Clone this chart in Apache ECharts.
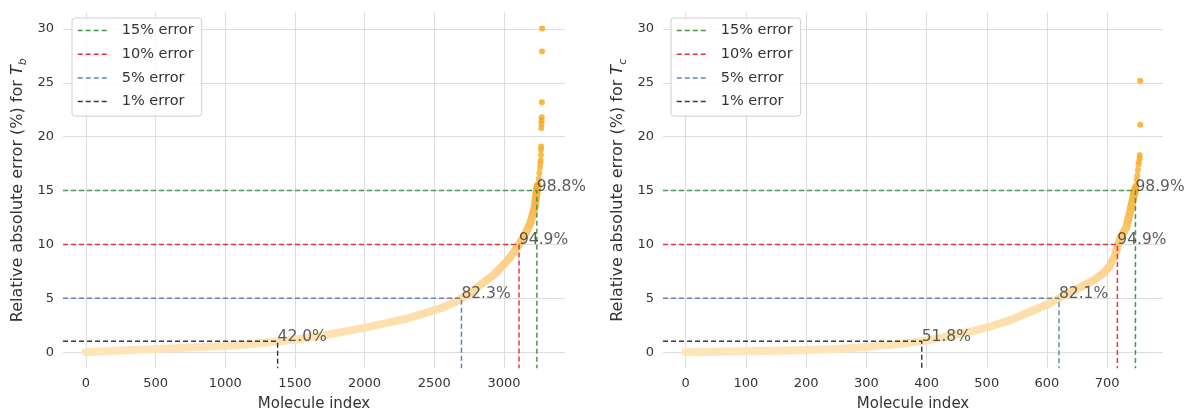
<!DOCTYPE html>
<html>
<head>
<meta charset="utf-8">
<script src="https://cdn.jsdelivr.net/npm/echarts@6/dist/echarts.min.js"></script>
<style>html,body{margin:0;padding:0;background:#fff}#c{width:1187px;height:412px}</style>
</head>
<body>
<div id="c"></div>
<script>
// ---- data ----
const thresholdNames = ['15% error', '10% error', '5% error', '1% error'];
const thresholds = [15, 10, 5, 1];
const thresholdColors = ['#449c44', '#e8333a', '#6482b4', '#3a3a3a'];

// Left panel (T_b), sorted molecule errors
const leftIdx = [0, 250, 500, 750, 1000, 1200, 1376, 1500, 1700, 1873, 2000, 2154, 2300, 2428, 2550, 2651, 2695, 2770, 2845, 2920, 2982, 3050, 3108, 3150, 3190, 3220, 3236, 3241];
const leftErr = [0.0, 0.15, 0.28, 0.42, 0.56, 0.75, 1.0, 1.15, 1.55, 1.95, 2.25, 2.7, 3.1, 3.6, 4.1, 4.67, 5.0, 5.6, 6.4, 7.1, 7.9, 8.9, 10.0, 10.9, 12.0, 13.4, 15.0, 15.4];
const leftTailIdx = [3245, 3250, 3254, 3258, 3261, 3263, 3265, 3266, 3267, 3268, 3269, 3270, 3271, 3272, 3273, 3274];
const leftTailErr = [15.6, 16.1, 16.6, 17.1, 17.5, 17.8, 18.3, 18.8, 19.1, 20.8, 21.2, 21.5, 21.8, 23.2, 27.9, 30.05];
const leftCross = [3236, 3108, 2695, 1376];
const leftPct = ['98.8%', '94.9%', '82.3%', '42.0%'];

// Right panel (T_c)
const rightIdx = [0, 50, 100, 150, 200, 250, 300, 350, 392, 420, 450, 480, 510, 540, 570, 600, 620, 640, 657, 678, 693, 703, 712, 717, 723, 732, 735, 740, 747];
const rightErr = [0.0, 0.04, 0.08, 0.13, 0.2, 0.3, 0.48, 0.72, 1.0, 1.3, 1.65, 2.0, 2.45, 3.0, 3.7, 4.4, 5.0, 5.6, 6.06, 6.7, 7.3, 7.9, 8.85, 9.8, 10.7, 11.6, 12.3, 13.5, 15.2];
const rightTailIdx = [748, 749, 750, 751, 752, 753, 754, 754, 755, 755];
const rightTailErr = [15.5, 16.0, 16.4, 16.9, 17.4, 17.7, 18.0, 18.3, 21.1, 25.2];
const rightCross = [747, 717, 620, 392];
const rightPct = ['98.9%', '94.9%', '82.1%', '51.8%'];

// ---- chart ----
const FONT = 'DejaVu Sans';
const TXT = '#333333';
const Y_MIN = -1.5, Y_MAX = 31.55;
const panels = [
  { idx: leftIdx, err: leftErr, tIdx: leftTailIdx, tErr: leftTailErr, cross: leftCross, pct: leftPct,
    xMin: -164, xMax: 3438, split: 8, sub: 'b',
    grid: { left: 63, top: 12.3, width: 502, height: 356, outerBoundsMode: 'none', containLabel: false }, legendLeft: 72 },
  { idx: rightIdx, err: rightErr, tIdx: rightTailIdx, tErr: rightTailErr, cross: rightCross, pct: rightPct,
    xMin: -37.75, xMax: 792.75, split: 8, sub: 'c',
    grid: { left: 663, top: 12.3, width: 500, height: 356, outerBoundsMode: 'none', containLabel: false }, legendLeft: 671 }
];

const zip = (a, b) => a.map((v, i) => [v, b[i]]);
const grids = [], xAxes = [], yAxes = [], series = [], legends = [], colorSeries = [];

panels.forEach((p, k) => {
  grids.push(p.grid);
  xAxes.push({
    type: 'value', gridIndex: k, min: p.xMin, max: p.xMax, splitNumber: p.split,
    name: 'Molecule index', nameLocation: 'middle', nameGap: 28,
    nameTextStyle: { fontFamily: FONT, fontSize: 15, color: TXT },
    axisLine: { show: false }, axisTick: { show: false },
    axisLabel: { fontFamily: FONT, fontSize: 13, color: TXT, margin: 9, showMinLabel: false, showMaxLabel: false,
      formatter: (v) => String(v) },
    splitLine: { show: true, showMinLine: false, showMaxLine: false, lineStyle: { color: '#d4d4d4', width: 0.8 } }
  });
  yAxes.push({
    type: 'value', gridIndex: k, min: Y_MIN, max: Y_MAX, splitNumber: 7,
    name: 'Relative absolute error (%) for {i|T}{s|' + p.sub + '}',
    nameLocation: 'middle', nameRotate: 90, nameGap: 34,
    nameTextStyle: { fontFamily: FONT, fontSize: 16, color: TXT, lineHeight: 22,
      rich: { i: { fontFamily: FONT, fontStyle: 'italic', fontSize: 16, color: TXT },
              s: { fontFamily: FONT, fontStyle: 'italic', fontSize: 11, color: TXT, verticalAlign: 'bottom', lineHeight: 22 } } },
    axisLine: { show: false }, axisTick: { show: false },
    axisLabel: { fontFamily: FONT, fontSize: 13, color: TXT, margin: 9, showMinLabel: false, showMaxLabel: false },
    splitLine: { show: true, showMinLine: false, showMaxLine: false, lineStyle: { color: '#d4d4d4', width: 0.8 } }
  });

  // band of sorted errors
  colorSeries.push(series.length);
  series.push({
    type: 'line', xAxisIndex: k, yAxisIndex: k, data: zip(p.idx, p.err),
    symbol: 'circle', symbolSize: 7, showSymbol: true, z: 2, silent: true,
    lineStyle: { width: 8, cap: 'round', join: 'round' }
  });
  colorSeries.push(series.length);
  series.push({
    type: 'scatter', xAxisIndex: k, yAxisIndex: k, data: zip(p.tIdx, p.tErr),
    symbolSize: 6, z: 2, silent: true
  });

  // threshold lines
  thresholds.forEach((t, j) => {
    series.push({
      type: 'line', name: thresholdNames[j], xAxisIndex: k, yAxisIndex: k,
      data: [[p.xMin, t], [p.cross[j], t], [p.cross[j], Y_MIN]],
      symbol: 'none', z: 4, silent: true, color: thresholdColors[j],
      lineStyle: { color: thresholdColors[j], width: 1.5, type: [5, 3] }
    });
  });
  // percent annotations
  series.push({
    type: 'scatter', xAxisIndex: k, yAxisIndex: k, z: 5, silent: true,
    data: thresholds.map((t, j) => [p.cross[j], t, p.pct[j]]),
    symbolSize: 0.1, itemStyle: { color: 'rgba(0,0,0,0)' },
    label: { show: true, position: [0, 0], align: 'left', verticalAlign: 'bottom', offset: [0, 4],
      formatter: (d) => d.value[2], fontFamily: FONT, fontSize: 15.5, color: TXT }
  });

  legends.push({
    left: p.legendLeft, top: 18, orient: 'vertical', data: thresholdNames,
    itemWidth: 29, itemHeight: 14, itemGap: 8.7, padding: [5, 8, 7, 5],
    backgroundColor: 'rgba(255,255,255,0.85)', borderColor: '#d0d0d0', borderWidth: 1, borderRadius: 3,
    selectedMode: false,
    itemStyle: { color: 'rgba(0,0,0,0)', borderWidth: 0, opacity: 0 },
    lineStyle: { width: 1.5, type: [5, 3] },
    textStyle: { fontFamily: FONT, fontSize: 14.5, color: TXT, padding: [0, 0, 0, 10] }
  });
});

const chart = echarts.init(document.getElementById('c'), null, { renderer: 'canvas' });
chart.setOption({
  animation: false,
  backgroundColor: '#ffffff',
  grid: grids, xAxis: xAxes, yAxis: yAxes, legend: legends,
  visualMap: {
    type: 'continuous', show: false, dimension: 1, seriesIndex: colorSeries, min: 0, max: 31,
    inRange: { color: ['#fee4b8', '#fddca6', '#fcca78', '#f7ae30', '#f5a612', '#f5a612', '#f5a612'] }
  },
  series: series
});
</script>
</body>
</html>
